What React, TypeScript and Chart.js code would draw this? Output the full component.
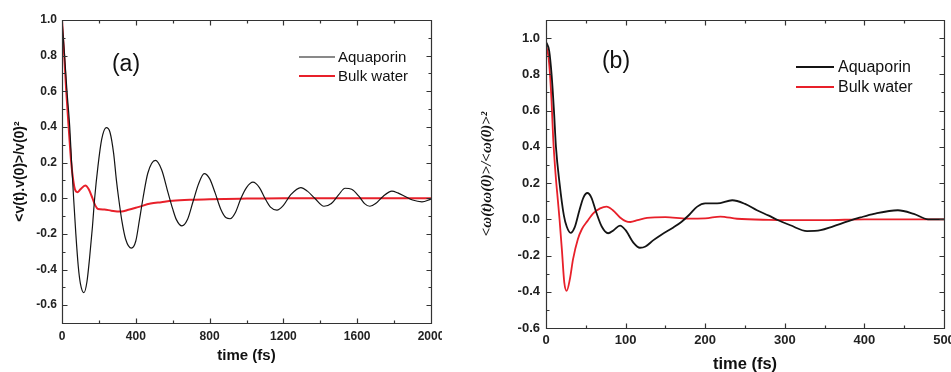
import { useEffect, useRef } from 'react';
import { Chart, registerables } from 'chart.js';
Chart.register(...registerables);

// ---------- data ----------
const seriesLabels = ['Aquaporin', 'Bulk water'];

// panel (a): velocity autocorrelation
const aAquaT = [0,14,27,42,52,63,75,88,100,119,135,150,165,177,195,215,240,260,280,295,307,325,345,376,400,420,439,465,506,540,575,600,620,650,680,710,740,771,800,830,860,890,911,940,970,1000,1035,1070,1100,1130,1165,1200,1240,1295,1330,1370,1420,1460,1500,1534,1570,1610,1640,1669,1700,1740,1788,1820,1860,1900,1951,2000];
const aAquaV = [1.0,0.8,0.6,0.4,0.2,0.0,-0.2,-0.38,-0.48,-0.53,-0.47,-0.33,-0.16,0.0,0.18,0.33,0.396,0.37,0.25,0.1,0.0,-0.13,-0.23,-0.28,-0.24,-0.12,0.0,0.14,0.212,0.16,0.03,-0.06,-0.12,-0.155,-0.12,-0.02,0.08,0.138,0.11,0.03,-0.06,-0.11,-0.115,-0.08,0.0,0.06,0.09,0.06,0.0,-0.05,-0.067,-0.04,0.02,0.06,0.04,0.0,-0.045,-0.03,0.02,0.056,0.05,0.01,-0.03,-0.045,-0.03,0.01,0.04,0.03,0.01,-0.01,-0.02,-0.005];
const aBulkT = [0,12,23,36,50,61,70,83,100,126,145,165,180,195,230,267,322,360,412,480,538,600,700,800,1000,1200,1600,2000];
const aBulkV = [1.0,0.8,0.6,0.4,0.2,0.1,0.05,0.034,0.05,0.071,0.05,0.0,-0.04,-0.06,-0.063,-0.07,-0.075,-0.065,-0.05,-0.03,-0.022,-0.014,-0.008,-0.005,-0.002,0,0,0];
const aXTicks = [0, 400, 800, 1200, 1600, 2000];
const aYTicks = [-0.6, -0.4, -0.2, 0.0, 0.2, 0.4, 0.6, 0.8, 1.0];

// panel (b): angular velocity autocorrelation
const bAquaT = [0,4,7,10,12.5,17,22.5,26,31,36,42,47,52,57,63,70,78,85,93,100,110,118,125,135,145,160,170,180,190,200,215,234,250,265,280,291,307,328,345,360,380,395,412,442,462,480,500];
const bAquaV = [0.98,0.93,0.8,0.6,0.4,0.2,0.02,-0.04,-0.075,-0.045,0.05,0.12,0.145,0.12,0.04,-0.04,-0.077,-0.06,-0.035,-0.06,-0.13,-0.157,-0.15,-0.115,-0.085,-0.045,-0.015,0.025,0.07,0.088,0.088,0.105,0.085,0.05,0.02,-0.004,-0.033,-0.065,-0.06,-0.04,-0.01,0.01,0.03,0.05,0.03,0.0,0.0];
const bBulkT = [0,3,5,7,9,12,15,17,20,23,26,30,34,40,45,52,60,68,76,84,93,100,106,115,127,150,177,200,219,240,280,350,400,500];
const bBulkV = [0.96,0.9,0.8,0.65,0.45,0.25,0.1,0.0,-0.17,-0.35,-0.395,-0.33,-0.22,-0.11,-0.055,-0.01,0.035,0.06,0.07,0.05,0.01,-0.01,-0.015,-0.005,0.008,0.012,0.004,0.005,0.015,0.003,-0.003,-0.005,0.0,0.0];
const bXTicks = [0, 100, 200, 300, 400, 500];
const bYTicks = [-0.6, -0.4, -0.2, 0.0, 0.2, 0.4, 0.6, 0.8, 1.0];

const SANS = "'Liberation Sans', Arial, sans-serif";
const BLACK = '#141414';
const RED = '#e8202a';

const zip = (t: number[], v: number[]) => t.map((x, i) => ({ x, y: v[i] }));

// ---------- plugins ----------
const frameTicks = {
  id: 'frameTicks',
  afterDatasetsDraw(chart: any) {
    const { ctx, chartArea: a, scales } = chart;
    const xs = scales.x, ys = scales.y;
    const L = Math.round(a.left) + 0.5, R = Math.round(a.right) + 0.5;
    const T = Math.round(a.top) + 0.5, B = Math.round(a.bottom) + 0.5;
    ctx.save();
    ctx.strokeStyle = '#333';
    ctx.lineWidth = 1.2;
    ctx.beginPath();
    ctx.rect(L, T, R - L, B - T);
    const dx = (v: number, len: number) => {
      const p = Math.round(xs.getPixelForValue(v)) + 0.5;
      ctx.moveTo(p, B); ctx.lineTo(p, B - len);
      ctx.moveTo(p, T); ctx.lineTo(p, T + len);
    };
    const dy = (v: number, len: number) => {
      const p = Math.round(ys.getPixelForValue(v)) + 0.5;
      ctx.moveTo(L, p); ctx.lineTo(L + len, p);
      ctx.moveTo(R, p); ctx.lineTo(R - len, p);
    };
    const mx = xs.ticks.map((t: any) => t.value);
    const my = ys.ticks.map((t: any) => t.value);
    mx.forEach((v: number) => dx(v, 5));
    for (let i = 0; i < mx.length - 1; i++) dx((mx[i] + mx[i + 1]) / 2, 3);
    my.forEach((v: number) => dy(v, 5));
    for (let i = 0; i < my.length - 1; i++) dy((my[i] + my[i + 1]) / 2, 3);
    ctx.stroke();
    ctx.restore();
  },
};

const panelDecor = {
  id: 'panelDecor',
  afterDraw(chart: any, _args: any, o: any) {
    const { ctx } = chart;
    ctx.save();
    ctx.fillStyle = '#111';
    ctx.font = `${o.labelSize}px ${SANS}`;
    ctx.textAlign = 'center';
    ctx.textBaseline = 'middle';
    ctx.fillText(o.label, o.labelX, o.labelY);
    ctx.font = `${o.legendSize}px ${SANS}`;
    ctx.textAlign = 'left';
    chart.data.datasets.forEach((ds: any, i: number) => {
      const y = o.legendY[i];
      ctx.strokeStyle = ds.borderColor;
      ctx.lineWidth = ds.borderWidth;
      ctx.beginPath();
      ctx.moveTo(o.legendX1, y);
      ctx.lineTo(o.legendX2, y);
      ctx.stroke();
      ctx.fillStyle = '#111';
      ctx.fillText(ds.label, o.legendTextX, y + 1);
    });
    ctx.restore();
  },
};

function makeConfig(p: any): any {
  return {
    type: 'line',
    data: {
      datasets: [
        { label: seriesLabels[0], data: zip(p.aquaT, p.aquaV), borderColor: BLACK, borderWidth: p.blackW, pointRadius: 0, cubicInterpolationMode: 'monotone', fill: false },
        { label: seriesLabels[1], data: zip(p.bulkT, p.bulkV), borderColor: RED, borderWidth: p.redW, pointRadius: 0, cubicInterpolationMode: 'monotone', fill: false },
      ],
    },
    options: {
      animation: false,
      responsive: false,
      events: [],
      layout: { padding: { left: 0, top: 20, right: p.padRight, bottom: 0 } },
      plugins: {
        legend: { display: false },
        tooltip: { enabled: false },
        panelDecor: p.decor,
      },
      scales: {
        x: {
          type: 'linear',
          min: p.xMin, max: p.xMax,
          grid: { display: false, drawTicks: false },
          border: { display: false },
          afterBuildTicks: (s: any) => { s.ticks = p.xTicks.map((v: number) => ({ value: v })); },
          afterFit: (s: any) => { s.height = p.xAxisH; s.paddingLeft = 0; s.paddingRight = 0; },
          ticks: { color: '#222', padding: p.xTickPad, font: { family: SANS, size: p.tickSize, weight: 'bold' }, callback: (v: any) => String(v), maxRotation: 0 },
          title: { display: true, text: 'time (fs)', color: '#111', font: { family: SANS, size: p.xTitleSize, weight: 'bold' }, padding: { top: 0, bottom: p.xTitlePad } },
        },
        y: {
          type: 'linear',
          min: p.yMin, max: p.yMax,
          grid: { display: false, drawTicks: false },
          border: { display: false },
          afterBuildTicks: (s: any) => { s.ticks = p.yTicks.map((v: number) => ({ value: v })); },
          afterFit: (s: any) => { s.width = p.yAxisW; },
          ticks: { color: '#222', padding: p.yTickPad, font: { family: SANS, size: p.tickSize, weight: 'bold' }, callback: (v: any) => Number(v).toFixed(1) },
          title: { display: true, text: p.yTitle, color: '#111', font: p.yTitleFont, padding: { top: p.yTitlePad, bottom: 0 } },
        },
      },
    },
    plugins: [frameTicks, panelDecor],
  };
}

const panelA = {
  aquaT: aAquaT, aquaV: aAquaV, bulkT: aBulkT, bulkV: aBulkV,
  blackW: 1.2, redW: 2,
  xMin: 0, xMax: 2000, yMin: -0.7, yMax: 1.0,
  xTicks: aXTicks, yTicks: aYTicks,
  padRight: 39, xAxisH: 49, yAxisW: 62,
  xTickPad: 6, yTickPad: 5, tickSize: 12,
  xTitleSize: 15, xTitlePad: 7,
  yTitle: '<v(t).v(0)>/v(0)²',
  yTitleFont: { family: SANS, size: 14, weight: 'bold' },
  yTitlePad: 12,
  decor: { label: '(a)', labelX: 126, labelY: 65, labelSize: 23, legendSize: 15, legendX1: 299, legendX2: 335, legendTextX: 338, legendY: [57, 76] },
};

const panelB = {
  aquaT: bAquaT, aquaV: bAquaV, bulkT: bBulkT, bulkV: bBulkV,
  blackW: 1.8, redW: 1.8,
  xMin: 0, xMax: 500, yMin: -0.6, yMax: 1.1,
  xTicks: bXTicks, yTicks: bYTicks,
  padRight: 36, xAxisH: 44, yAxisW: 76,
  xTickPad: 5, yTickPad: 6, tickSize: 13,
  xTitleSize: 16.5, xTitlePad: -2,
  yTitle: '<ω(t)ω(0)>/<ω(0)>²',
  yTitleFont: { family: "'Liberation Serif', 'DejaVu Serif', serif", size: 15, weight: 'bold', style: 'italic' },
  yTitlePad: 8,
  decor: { label: '(b)', labelX: 146, labelY: 62, labelSize: 23, legendSize: 16, legendX1: 326, legendX2: 364, legendTextX: 368, legendY: [67, 87] },
};

function Panel({ cfg, left, width, canvasW }: { cfg: any; left: number; width: number; canvasW: number }) {
  const ref = useRef<HTMLCanvasElement | null>(null);
  useEffect(() => {
    if (!ref.current) return;
    const chart = new Chart(ref.current, makeConfig(cfg));
    return () => chart.destroy();
  }, [cfg]);
  return (
    <div style={{ position: 'absolute', left, top: 0, width, height: 372, overflow: 'hidden' }}>
      <canvas ref={ref} width={canvasW} height={372} style={{ display: 'block', width: canvasW, height: 372 }} />
    </div>
  );
}

export default function App() {
  return (
    <div style={{ position: 'fixed', left: 0, top: 0, width: 951, height: 372, overflow: 'hidden', background: '#fff' }}>
      <Panel cfg={panelA} left={0} width={442} canvasW={470} />
      <Panel cfg={panelB} left={470} width={481} canvasW={510} />
    </div>
  );
}
